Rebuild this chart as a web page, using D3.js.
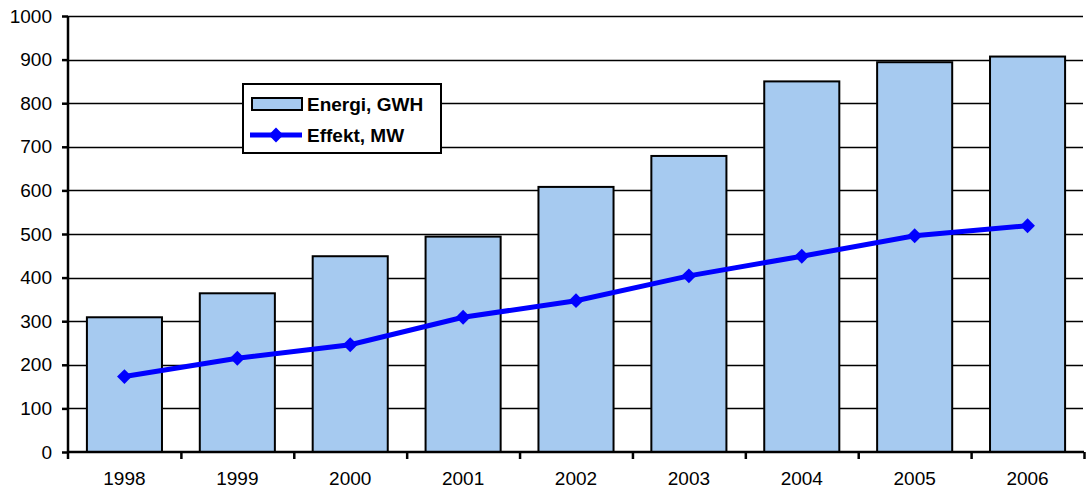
<!DOCTYPE html>
<html>
<head>
<meta charset="utf-8">
<script src="https://cdn.jsdelivr.net/npm/d3@7"></script>
<style>
	body { margin: 0; background: #fff; }
	svg { font-family: "Liberation Sans", Arial, sans-serif; }
</style>
</head>
<body>
<svg width="1088" height="493"></svg>
<script>
const years = ["1998", "1999", "2000", "2001", "2002", "2003", "2004", "2005", "2006"]
const energi = [309, 364, 449, 494, 608, 679, 850, 894, 907]
const effekt = [173, 215, 246, 309, 347, 404, 449, 496, 519]
const yTicks = [0, 100, 200, 300, 400, 500, 600, 700, 800, 900, 1000]

const svg = d3.select("svg")
const margin = { left: 68, right: 4, top: 16, bottom: 41 }
const width = 1088, height = 493

const x = d3.scaleBand()
	.domain(years)
	.range([margin.left, width - margin.right])
	.paddingInner(0.335)
	.paddingOuter(0.1675)

const y = d3.scaleLinear()
	.domain([0, 1000])
	.range([height - margin.bottom, margin.top])

// gridlines
svg.append("g")
	.selectAll("line")
	.data(yTicks.slice(1))
	.join("line")
	.attr("x1", margin.left)
	.attr("x2", width - margin.right - 1)
	.attr("y1", d => Math.round(y(d)) + 0.5)
	.attr("y2", d => Math.round(y(d)) + 0.5)
	.attr("stroke", "#000")
	.attr("stroke-width", 1.3)

// bars
svg.append("g")
	.selectAll("rect")
	.data(energi)
	.join("rect")
	.attr("x", (d, i) => x(years[i]))
	.attr("y", d => y(d))
	.attr("width", x.bandwidth())
	.attr("height", d => y(0) - y(d))
	.attr("fill", "#a6caf0")
	.attr("stroke", "#000")
	.attr("stroke-width", 2)

// y axis
const yAxis = svg.append("g")
	.attr("transform", `translate(${margin.left},0)`)
	.call(d3.axisLeft(y).tickValues(yTicks).tickFormat(d3.format("d")).tickSize(6).tickSizeOuter(0).tickPadding(10))
yAxis.select(".domain").attr("stroke-width", 2.5)
	.attr("d", `M0,${y(1000)}V${y(0) + 7}`)
yAxis.selectAll(".tick line").attr("stroke-width", 2.5)
yAxis.selectAll("text").attr("font-size", 19).attr("fill", "#000")

// x axis
const xAxis = svg.append("g")
	.attr("transform", `translate(0,${y(0)})`)
	.call(d3.axisBottom(x).tickSize(0).tickPadding(20))
xAxis.select(".domain").attr("stroke-width", 2.5)
	.attr("d", `M${margin.left},0H${width - margin.right}`)
xAxis.selectAll("text").attr("font-size", 19).attr("fill", "#000")
xAxis.selectAll("line.sep")
	.data(years)
	.join("line")
	.attr("class", "sep")
	.attr("x1", d => x(d) + x.step() - x.step() * 0.1675 + 0.5)
	.attr("x2", d => x(d) + x.step() - x.step() * 0.1675 + 0.5)
	.attr("y1", 0)
	.attr("y2", 7)
	.attr("stroke", "#000")
	.attr("stroke-width", 2.5)

// line
const line = d3.line()
	.x((d, i) => x(years[i]) + x.bandwidth() / 2)
	.y(d => y(d))

svg.append("path")
	.datum(effekt)
	.attr("d", line)
	.attr("fill", "none")
	.attr("stroke", "#0000ff")
	.attr("stroke-width", 5)

const diamond = d3.symbol().type(d3.symbolDiamond2).size(140)
svg.append("g")
	.selectAll("path")
	.data(effekt)
	.join("path")
	.attr("d", diamond)
	.attr("transform", (d, i) => `translate(${x(years[i]) + x.bandwidth() / 2},${y(d)})`)
	.attr("fill", "#0000ff")

// legend
const lg = svg.append("g").attr("transform", "translate(243,84)")
lg.append("rect")
	.attr("width", 198).attr("height", 69)
	.attr("fill", "#fff").attr("stroke", "#000").attr("stroke-width", 2)
lg.append("rect")
	.attr("x", 9).attr("y", 14).attr("width", 50).attr("height", 12)
	.attr("fill", "#a6caf0").attr("stroke", "#000").attr("stroke-width", 2)
lg.append("line")
	.attr("x1", 7).attr("x2", 59).attr("y1", 51).attr("y2", 51)
	.attr("stroke", "#0000ff").attr("stroke-width", 5)
lg.append("path")
	.attr("d", diamond)
	.attr("transform", "translate(33,51)")
	.attr("fill", "#0000ff")
lg.selectAll("text")
	.data(["Energi, GWH", "Effekt, MW"])
	.join("text")
	.attr("x", 64)
	.attr("y", (d, i) => 27 + i * 31)
	.attr("font-size", 19)
	.attr("font-weight", "bold")
	.text(d => d)
</script>
</body>
</html>
